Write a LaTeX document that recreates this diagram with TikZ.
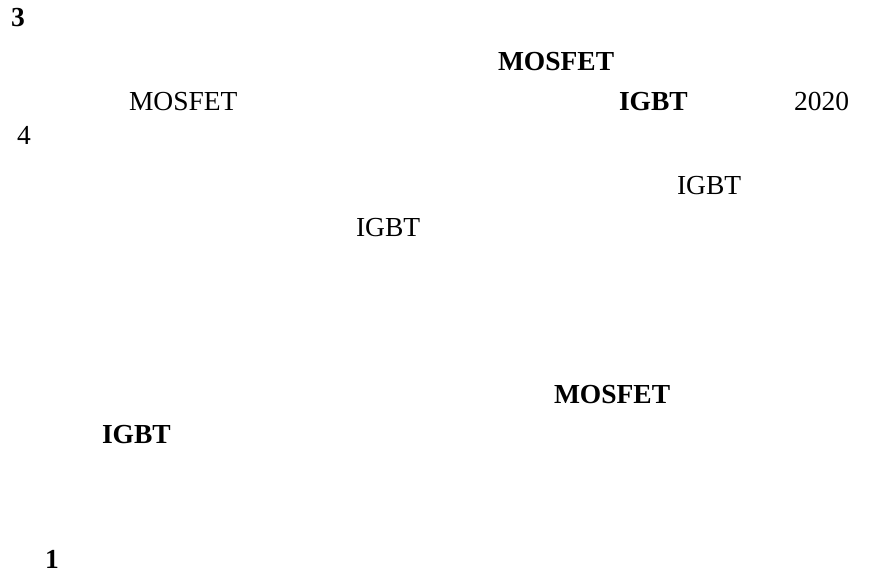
\documentclass[tikz,border=0pt]{standalone}
\usepackage{fontspec}
\setmainfont{Liberation Serif}
\usetikzlibrary{positioning,calc}

\begin{document}
\begin{tikzpicture}[x=1pt,y=1pt,
    txt/.style={anchor=base west,inner sep=0pt,outer sep=0pt,font=\fontsize{27.5}{33}\selectfont},
    btxt/.style={txt,font=\fontsize{27.5}{33}\selectfont\bfseries}]
        % page frame
        \fill[white] (0,0) rectangle (870,-577);
        \useasboundingbox (0,0) rectangle (870,-577);
        % heading lines
        \node[btxt] (num3) at (11,-27) {3};
        \node[btxt] (mosA) at (498,-71) {MOSFET};
        \node[txt] (mosB) at (129,-111) {MOSFET};
        \node[btxt] (igbtA) at (619,-111) {IGBT};
        \node[txt] (year) at (794,-111) {2020};
        \node[txt] (num4) at (17,-145) {4};
        % body lines
        \node[txt] (igbtB) at (677,-195) {IGBT};
        \node[txt] (igbtC) at (356,-237) {IGBT};
        \node[btxt] (mosC) at (554,-403) {MOSFET};
        \node[btxt] (igbtD) at (102,-443) {IGBT};
        \node[btxt] (num1) at (45,-568) {1};
\end{tikzpicture}
\end{document}
